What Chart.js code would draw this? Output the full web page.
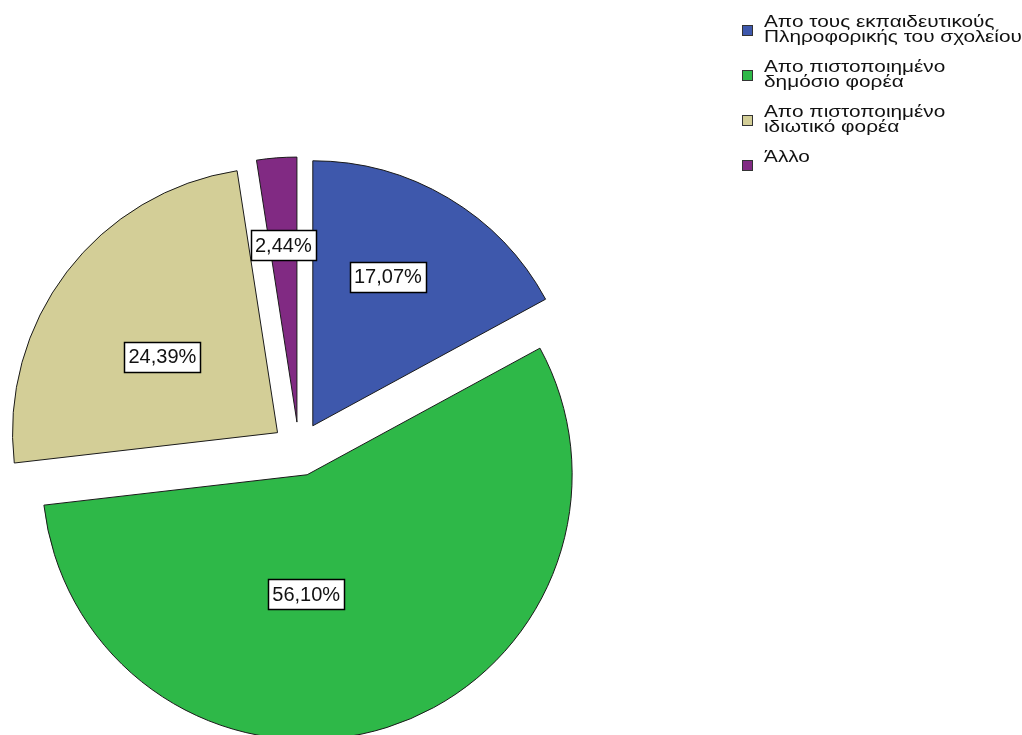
<!DOCTYPE html>
<html lang="el">
<head>
    <meta charset="UTF-8">
    <title>Πίτα</title>
    <script src="https://cdn.jsdelivr.net/npm/chart.js"></script>
    <style>
        html, body {
            margin: 0;
            padding: 0;
            background: #fff;
            overflow: hidden;
            width: 1022px;
            height: 735px;
        }
        #pieBox {
            position: absolute;
            left: 0;
            top: 0;
            width: 1022px;
            height: 800px;
        }
        #legend {
            position: absolute;
            left: 742px;
            top: 14px;
            font-family: "Liberation Sans", Arial, sans-serif;
            font-size: 16px;
            line-height: 15px;
            color: #111;
        }
        #legend .item {
            display: flex;
            align-items: flex-start;
            margin-bottom: 15px;
        }
        #legend .sw {
            width: 9px;
            height: 9px;
            border: 1px solid #333;
            margin-top: 11px;
            margin-right: 11px;
            flex: none;
        }
        #legend .txt {
            display: inline-block;
            white-space: nowrap;
            transform: scaleX(1.3);
            transform-origin: left top;
        }
    </style>
</head>
<body>
<div id="pieBox"><canvas id="pieChart"></canvas></div>
<div id="legend"></div>

<script>
// categories (legend lines split where the original wraps)
const categories = [
    ["Απο τους εκπαιδευτικούς", "Πληροφορικής του σχολείου"],
    ["Απο πιστοποιημένο", "δημόσιο φορέα"],
    ["Απο πιστοποιημένο", "ιδιωτικό φορέα"],
    ["Άλλο"]
];
// counts (41 answers in total)
const counts = [7, 23, 10, 1];
const sliceColors = ["#3e58ac", "#2eb848", "#d3ce97", "#812a83"];

const PIE_RADIUS = 265;
const EXPLODE = 27;   // px the slices move out from the centre

// Chart.js only shifts an arc by offset/4 and also grows / narrows it a bit, undo that
const keepShape = {
    id: "keepShape",
    afterDatasetsUpdate(chart) {
        chart.getDatasetMeta(0).data.forEach(function (arc) {
            const off = (arc.options.offset || 0) / 4;
            const fix = 1 - Math.sin(Math.min(Math.PI, arc.circumference));
            const grow = off * fix;
            arc.outerRadius = PIE_RADIUS - grow;
            const narrow = (grow / Math.PI) / PIE_RADIUS / 2;
            arc.startAngle -= narrow;
            arc.endAngle += narrow;
        });
    }
};

// percentage boxes, SPSS style
const labelFrac = [0.63, 0.45, 0.52, 0.67];
const labelTurn = [-4, 18, -4, 0];
const pctBoxes = {
    id: "pctBoxes",
    afterDatasetsDraw(chart) {
        const ctx = chart.ctx;
        const total = counts.reduce((a, b) => a + b, 0);
        ctx.save();
        ctx.font = "20px 'Liberation Sans', Arial, sans-serif";
        ctx.textAlign = "center";
        ctx.textBaseline = "middle";
        chart.getDatasetMeta(0).data.forEach(function (arc, i) {
            const mid = (arc.startAngle + arc.endAngle) / 2;
            const ax = arc.x + Math.cos(mid) * EXPLODE;
            const ay = arc.y + Math.sin(mid) * EXPLODE;
            const a = mid + labelTurn[i] * Math.PI / 180;
            const x = ax + Math.cos(a) * PIE_RADIUS * labelFrac[i];
            const y = ay + Math.sin(a) * PIE_RADIUS * labelFrac[i];
            const txt = (counts[i] / total * 100).toFixed(2).replace(".", ",") + "%";
            const w = Math.round(ctx.measureText(txt).width + 8);
            const h = 30;
            const bx = Math.round(x - w / 2), by = Math.round(y - h / 2);
            ctx.fillStyle = "#fff";
            ctx.fillRect(bx, by, w, h);
            ctx.strokeStyle = "#000";
            ctx.lineWidth = 1.5;
            ctx.strokeRect(bx + 0.5, by + 0.5, w, h);
            ctx.fillStyle = "#111";
            ctx.fillText(txt, x, y + 1);
        });
        ctx.restore();
    }
};

new Chart(document.getElementById("pieChart"), {
    type: "pie",
    data: {
        labels: categories.map(c => c.join(" ")),
        datasets: [{
            data: counts,
            backgroundColor: sliceColors,
            borderColor: "#1a1a1a",
            borderWidth: 1,
            offset: EXPLODE * 4,
            hoverOffset: EXPLODE * 4,
            clip: false
        }]
    },
    options: {
        responsive: true,
        maintainAspectRatio: false,
        animation: false,
        events: [],
        radius: PIE_RADIUS,
        layout: { padding: { left: 0, right: 424, top: 98, bottom: 0 } },
        plugins: {
            legend: { display: false },
            tooltip: { enabled: false }
        }
    },
    plugins: [keepShape, pctBoxes]
});

// legend on the right
const legend = document.getElementById("legend");
categories.forEach(function (lines, i) {
    const item = document.createElement("div");
    item.className = "item";
    const sw = document.createElement("span");
    sw.className = "sw";
    sw.style.background = sliceColors[i];
    const txt = document.createElement("span");
    txt.className = "txt";
    txt.innerHTML = lines.join("<br>");
    item.appendChild(sw);
    item.appendChild(txt);
    legend.appendChild(item);
});
</script>
</body>
</html>
